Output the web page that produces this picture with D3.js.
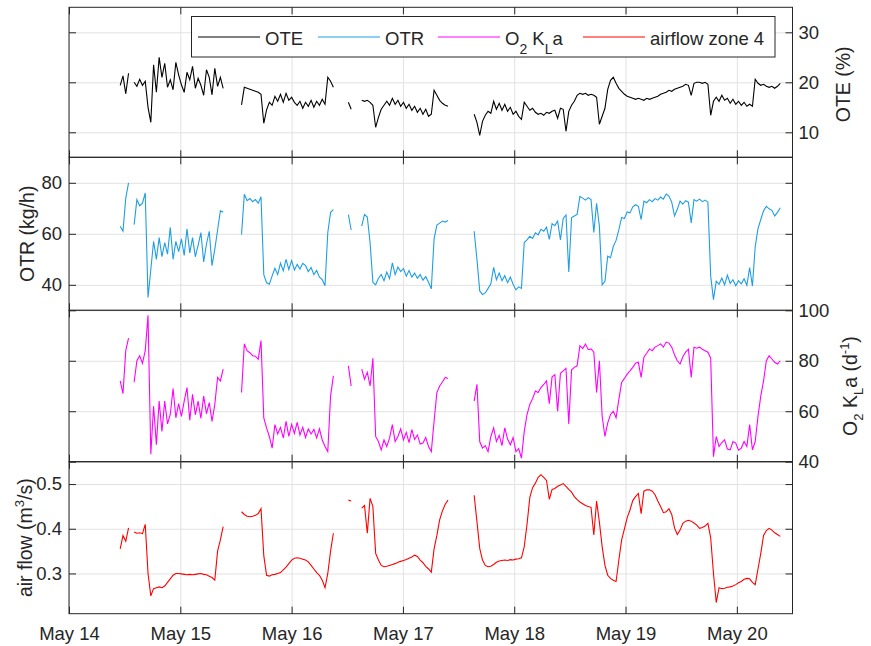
<!DOCTYPE html>
<html lang="en">
<head>
<meta charset="utf-8" />
<title>OTE, OTR, KLa and airflow</title>
<script src="https://cdn.jsdelivr.net/npm/d3@7"></script>
<style>
  body { margin: 0; background: #fff; }
  text { font-family: "Liberation Sans", Arial, Helvetica, sans-serif; fill: #262626; white-space: pre; }
</style>
</head>
<body>
<script>
// logger segments: start of each block in days after May 14 00:00, one sample every 0.025 d
var segStart = [0.46, 0.585, 1.55, 2.51, 2.63, 3.64];
var sampleStep = 0.025;

// OTE (%)
var oteVals = [
  [19.4, 21.3, 17.7, 21.8],
  [20.0, 19.2, 20.6, 19.4, 20.2, 15.0, 12.0, 23.5, 18.0, 25.0, 21.0, 23.8, 19.0, 20.5, 18.5, 24.0, 21.5,
   19.5, 18.0, 22.0, 20.5, 23.2, 18.8, 20.8, 19.4, 17.4, 22.5, 21.0, 17.5, 22.8, 19.2, 21.0, 18.8],
  [15.5, 19.0, 18.8, 18.6, 18.4, 18.2, 18.0, 17.6, 11.8, 14.5, 16.0, 15.4, 17.2, 16.2, 17.6, 16.0, 17.8,
   16.4, 17.0, 16.0, 15.4, 16.2, 14.8, 16.0, 15.2, 16.4, 15.0, 16.2, 15.4, 16.6, 15.6, 21.0, 20.2, 19.0],
  [16.0, 14.6],
  [16.4, 16.2, 16.4, 16.0, 15.4, 11.0, 13.0, 14.6, 15.4, 16.2, 15.4, 16.8, 15.6, 16.4, 15.2, 16.0,
   14.8, 15.6, 14.4, 15.2, 14.0, 14.8, 13.6, 14.6, 13.2, 13.6, 18.4, 17.4, 16.4, 15.8, 15.4, 15.2],
  [13.6, 12.0, 9.4, 12.2, 13.4, 14.2, 13.8, 16.2, 14.6, 15.8,
   14.4, 15.6, 14.2, 15.0, 13.6, 14.2, 13.2, 12.6, 16.0, 15.2,
   14.4, 14.8, 14.0, 13.6, 13.8, 13.4, 14.0, 13.8, 14.2, 14.4,
   12.8, 14.8, 14.6, 10.2, 14.2, 15.4, 16.2, 17.4, 17.8, 17.6,
   17.8, 17.4, 17.6, 17.4, 17.0, 11.6, 13.2, 14.8, 18.6, 20.4,
   21.0, 19.8, 18.8, 18.2, 17.6, 17.2, 17.0, 16.8, 16.6, 16.8,
   16.6, 16.4, 16.8, 16.6, 16.8, 17.0, 17.2, 17.6, 17.8, 18.0,
   18.4, 18.2, 18.6, 18.8, 19.0, 19.2, 19.6, 19.4, 17.4, 19.8,
   20.0, 20.0, 19.8, 20.0, 19.6, 13.4, 16.2, 17.0, 16.2, 17.4,
   16.4, 16.8, 15.8, 16.6, 15.6, 16.2, 15.4, 16.0, 15.2, 15.6,
   15.2, 20.6, 19.8, 19.4, 19.6, 19.2, 19.0, 19.2, 18.8, 19.2,
   19.8]
];

// OTR (kg/h)
var otrVals = [
  [63, 61, 74, 80],
  [63.6, 73.4, 71.0, 72.0, 76.0, 35.0, 46.0, 57.0, 50.0, 58.5, 51.0, 56.5, 52.0, 62.5, 50.0, 57.0, 53.0,
   58.0, 51.5, 62.0, 52.5, 58.5, 51.0, 55.5, 60.5, 49.0, 56.0, 61.0, 47.5, 54.0, 61.5, 69.0, 68.5],
  [59.7, 75.5, 73.0, 73.8, 72.6, 73.4, 72.0, 74.5, 44.0, 40.8, 40.2, 43.5, 46.5, 44.0, 48.5, 45.5, 50.0,
   46.0, 49.5, 45.8, 48.0, 46.2, 48.4, 47.5, 45.2, 46.8, 44.0, 45.6, 43.0, 42.0, 39.6, 60.5, 68.4, 69.5],
  [67.5, 61.5],
  [63.0, 67.6, 66.6, 56.5, 41.0, 40.0, 42.6, 44.0, 41.6, 45.0, 42.4, 48.6, 44.0, 47.0, 45.2, 46.4,
   43.4, 45.6, 43.0, 44.6, 42.6, 44.0, 41.8, 43.2, 41.0, 38.4, 58.0, 63.4, 64.2, 65.0, 64.6, 65.2],
  [61.0, 50.0, 37.6, 36.2, 36.8, 38.6, 40.4, 46.8, 42.0, 44.6,
   41.6, 43.6, 40.8, 43.0, 40.2, 38.0, 39.2, 38.6, 56.6, 57.6,
   59.0, 58.2, 60.4, 59.6, 61.8, 61.0, 62.6, 57.8, 64.0, 63.2,
   65.0, 57.6, 66.0, 67.4, 45.0, 66.4, 67.0, 67.6, 74.7, 74.0,
   73.2, 74.2, 73.4, 60.5, 72.0, 63.0, 40.0, 41.4, 51.2, 50.6,
   55.0, 57.4, 61.6, 66.4, 66.0, 68.6, 68.2, 70.6, 71.4, 70.8,
   65.6, 72.8, 72.2, 73.4, 72.6, 73.8, 73.2, 74.4, 73.6, 75.6,
   74.8, 72.4, 67.0, 69.6, 72.8, 71.6, 73.0, 72.4, 64.3, 73.4,
   72.8, 73.6, 72.6, 73.2, 72.4, 43.4, 34.2, 41.4, 40.2, 42.6,
   40.0, 43.8, 40.6, 42.0, 39.6, 41.6, 40.4, 42.4, 39.8, 46.8,
   39.5, 55.0, 62.0, 65.6, 69.0, 70.8, 69.8, 69.2, 67.0, 68.4,
   70.2]
];

// O2 KLa (1/d)
var klaVals = [
  [72, 67, 84, 89],
  [71.5, 80.0, 82.0, 79.0, 84.0, 98.0, 43.0, 62.0, 46.7, 64.0, 52.0, 64.0, 55.0, 58.7, 69.0, 57.4, 63.0,
   58.0, 64.0, 69.4, 56.4, 66.7, 58.6, 64.0, 57.2, 66.0, 59.0, 63.4, 56.0, 62.7, 73.4, 72.0, 76.7],
  [67.4, 86.7, 84.0, 83.2, 82.0, 81.8, 80.6, 88.0, 57.4, 53.4, 50.0, 45.4, 54.7, 51.0, 53.6, 49.4, 56.0,
   50.0, 54.8, 51.2, 55.6, 50.6, 53.6, 49.6, 53.0, 51.0, 52.8, 49.4, 53.0, 48.6, 46.0, 44.0, 66.0, 74.0],
  [78, 70],
  [76.7, 72.7, 75.4, 70.0, 81.0, 50.0, 48.0, 44.7, 48.6, 46.0, 49.4, 54.7, 48.0, 50.0, 53.0, 48.6,
   51.6, 47.6, 52.7, 48.8, 50.6, 47.0, 47.4, 49.6, 46.0, 44.0, 56.0, 67.4, 70.0, 71.6, 73.4, 73.0],
  [64.0, 70.7, 48.0, 45.4, 46.4, 44.0, 50.0, 53.4, 48.0, 50.4,
   46.4, 53.4, 49.0, 46.7, 49.6, 44.0, 45.2, 41.4, 52.0, 58.7,
   62.7, 65.0, 68.0, 67.4, 69.4, 70.6, 72.0, 63.0, 73.6, 74.4,
   60.0, 75.0, 76.0, 77.0, 55.0, 76.4, 77.4, 78.0, 86.0, 84.8,
   86.6, 84.4, 84.7, 83.4, 67.4, 80.0, 58.0, 50.0, 55.4, 58.7,
   60.0, 57.4, 64.7, 71.4, 73.0, 74.7, 76.0, 77.4, 79.0, 79.4,
   73.4, 81.4, 83.0, 84.7, 84.0, 85.4, 86.0, 86.7, 85.4, 87.4,
   87.0, 85.4, 82.4, 80.0, 78.7, 81.6, 83.4, 84.6, 73.4, 85.4,
   85.0, 85.4, 84.6, 84.0, 83.4, 81.0, 42.0, 50.0, 46.0, 47.6,
   48.7, 45.0, 44.7, 48.0, 47.4, 44.6, 45.4, 48.0, 46.0, 54.7,
   44.7, 48.0, 58.0, 66.0, 72.0, 80.0, 82.0, 80.7, 79.4, 78.7,
   80.0]
];

// airflow zone 4 (m3/s)
var airVals = [
  [0.355, 0.385, 0.372, 0.402],
  [0.393, 0.390, 0.391, 0.389, 0.410, 0.300, 0.250, 0.266, 0.268, 0.270, 0.268, 0.272, 0.280, 0.288,
   0.296, 0.300, 0.300, 0.299, 0.298, 0.297, 0.298, 0.297, 0.298, 0.299, 0.300, 0.298, 0.297, 0.294,
   0.291, 0.285, 0.350, 0.375, 0.405],
  [0.438, 0.432, 0.428, 0.427, 0.428, 0.430, 0.434, 0.445, 0.340, 0.296, 0.294, 0.297, 0.298, 0.300,
   0.302, 0.308, 0.314, 0.322, 0.330, 0.334, 0.335, 0.334, 0.332, 0.330, 0.326, 0.318, 0.310, 0.302,
   0.296, 0.285, 0.268, 0.300, 0.350, 0.390],
  [0.464, 0.462],
  [0.446, 0.452, 0.390, 0.468, 0.450, 0.345, 0.330, 0.318, 0.315, 0.316, 0.318, 0.320, 0.322, 0.325,
   0.327, 0.329, 0.331, 0.334, 0.337, 0.341, 0.338, 0.330, 0.324, 0.316, 0.310, 0.303, 0.355, 0.385,
   0.420, 0.440, 0.455, 0.464],
  [0.475, 0.416, 0.356, 0.330, 0.318, 0.315, 0.316, 0.320, 0.325, 0.328,
   0.329, 0.330, 0.329, 0.331, 0.330, 0.332, 0.333, 0.335, 0.360, 0.410,
   0.470, 0.492, 0.502, 0.515, 0.521, 0.515, 0.508, 0.466, 0.488, 0.490,
   0.495, 0.498, 0.501, 0.495, 0.488, 0.482, 0.472, 0.465, 0.460, 0.456,
   0.452, 0.450, 0.448, 0.386, 0.462, 0.415, 0.360, 0.318, 0.296, 0.289,
   0.285, 0.282, 0.330, 0.375, 0.400, 0.425, 0.442, 0.463, 0.472, 0.479,
   0.434, 0.484, 0.487, 0.487, 0.484, 0.476, 0.462, 0.450, 0.436, 0.438,
   0.445, 0.432, 0.402, 0.387, 0.397, 0.412, 0.417, 0.419, 0.417, 0.413,
   0.408, 0.401, 0.403, 0.406, 0.412, 0.380, 0.300, 0.235, 0.268, 0.266,
   0.267, 0.269, 0.270, 0.272, 0.275, 0.279, 0.282, 0.287, 0.289, 0.288,
   0.280, 0.275, 0.310, 0.345, 0.385, 0.396, 0.401, 0.397, 0.391, 0.387,
   0.383]
];

var oteTicks = [10, 20, 30];
var otrTicks = [40, 60, 80];
var klaTicks = [40, 60, 80, 100];
var airTicks = [0.3, 0.4, 0.5];

var W = 871, H = 646;
var left = 69, right = 792.5;
var edges = [7.3, 157.3, 310.3, 461.7, 613.7];
var ink = "#262626";
var t0 = new Date(2019, 4, 14);

var svg = d3.select("body").append("svg")
  .attr("width", W)
  .attr("height", H);

var x = d3.scaleTime()
  .domain([t0, new Date(2019, 4, 20, 12)])
  .range([left, right]);

function seriesPoints(segs) {
  var pts = [];
  segs.forEach(function(seg, i) {
    seg.forEach(function(v, j) {
      var day = segStart[i] + j * sampleStep;
      pts.push({ t: new Date(+t0 + day * 864e5), v: v });
    });
    pts.push(null); // gap between logger blocks
  });
  return pts;
}

var panels = [
  { vals: oteVals, color: "#000000", domain: [5, 35], ticks: oteTicks, fmt: d3.format("d"), side: "right" },
  { vals: otrVals, color: "#1f9ee3", domain: [30, 90], ticks: otrTicks, fmt: d3.format("d"), side: "left" },
  { vals: klaVals, color: "#ff00ff", domain: [40, 100], ticks: klaTicks, fmt: d3.format("d"), side: "right" },
  { vals: airVals, color: "#ff0000", domain: [0.21, 0.55], ticks: airTicks, fmt: d3.format(".1f"), side: "left" }
];

function styleAxis(g) {
  g.select(".domain").remove();
  g.selectAll("line").attr("stroke", ink);
  g.selectAll("text").attr("font-size", "18.5px").attr("font-family", null).attr("fill", ink);
}

panels.forEach(function(p, i) {
  var top = edges[i], bottom = edges[i + 1];
  var y = d3.scaleLinear().domain(p.domain).range([bottom, top]);
  var g = svg.append("g");

  // grid
  g.append("g")
    .attr("transform", "translate(" + left + ",0)")
    .call(d3.axisLeft(y).tickValues(p.ticks).tickSize(-(right - left)).tickFormat(""))
    .call(function(a) { a.select(".domain").remove(); a.selectAll("line").attr("stroke", "#e2e2e2"); });
  g.append("g")
    .attr("transform", "translate(0," + bottom + ")")
    .call(d3.axisBottom(x).ticks(d3.timeDay.every(1)).tickSize(-(bottom - top)).tickFormat(""))
    .call(function(a) { a.select(".domain").remove(); a.selectAll("line").attr("stroke", "#e2e2e2"); });

  // data
  var clipId = "clip" + i;
  svg.append("clipPath").attr("id", clipId)
    .append("rect").attr("x", left).attr("y", top).attr("width", right - left).attr("height", bottom - top);

  var line = d3.line()
    .defined(function(d) { return d !== null; })
    .x(function(d) { return x(d.t); })
    .y(function(d) { return y(d.v); });

  g.append("path")
    .datum(seriesPoints(p.vals))
    .attr("clip-path", "url(#" + clipId + ")")
    .attr("fill", "none")
    .attr("stroke", p.color)
    .attr("stroke-width", 1.1)
    .attr("d", line);

  // box and ticks
  g.append("rect")
    .attr("x", left).attr("y", top)
    .attr("width", right - left).attr("height", bottom - top)
    .attr("fill", "none").attr("stroke", ink).attr("stroke-width", 1);

  g.append("g")
    .attr("transform", "translate(" + left + ",0)")
    .call(d3.axisLeft(y).tickValues(p.ticks).tickSize(-7).tickPadding(7)
      .tickFormat(p.side === "left" ? p.fmt : ""))
    .call(styleAxis);
  g.append("g")
    .attr("transform", "translate(" + right + ",0)")
    .call(d3.axisRight(y).tickValues(p.ticks).tickSize(-7).tickPadding(6)
      .tickFormat(p.side === "right" ? p.fmt : ""))
    .call(styleAxis);
  g.append("g")
    .attr("transform", "translate(0," + top + ")")
    .call(d3.axisTop(x).ticks(d3.timeDay.every(1)).tickSize(-7).tickFormat(""))
    .call(styleAxis);
  g.append("g")
    .attr("transform", "translate(0," + bottom + ")")
    .call(d3.axisBottom(x).ticks(d3.timeDay.every(1)).tickSize(-7).tickPadding(13)
      .tickFormat(i === panels.length - 1 ? d3.timeFormat("%b %d") : ""))
    .call(styleAxis);
});

// axis titles
function mid(i) { return (edges[i] + edges[i + 1]) / 2; }
var labelSize = "19.5px";

svg.append("text")
  .attr("transform", "translate(850," + (mid(0) + 2) + ") rotate(-90)")
  .attr("text-anchor", "middle").attr("font-size", labelSize)
  .text("OTE (%)");

svg.append("text")
  .attr("transform", "translate(34," + mid(1) + ") rotate(-90)")
  .attr("text-anchor", "middle").attr("font-size", labelSize)
  .text("OTR (kg/h)");

var kl = svg.append("text")
  .attr("transform", "translate(857," + mid(2) + ") rotate(-90)")
  .attr("text-anchor", "middle").attr("font-size", labelSize);
kl.append("tspan").text("O");
kl.append("tspan").attr("dy", 6).attr("font-size", "13px").text("2");
kl.append("tspan").attr("dy", -6).text(" K");
kl.append("tspan").attr("dy", 6).attr("font-size", "13px").text("L");
kl.append("tspan").attr("dy", -6).text("a (d");
kl.append("tspan").attr("dy", -8).attr("font-size", "13px").text("-1");
kl.append("tspan").attr("dy", 8).text(")");

var af = svg.append("text")
  .attr("transform", "translate(32," + mid(3) + ") rotate(-90)")
  .attr("text-anchor", "middle").attr("font-size", labelSize);
af.append("tspan").text("air flow (m");
af.append("tspan").attr("dy", -8).attr("font-size", "13px").text("3");
af.append("tspan").attr("dy", 8).text("/s)");

// legend
var legendNames = ["OTE", "OTR", "O2 KLa", "airflow zone 4"];
var legendColors = panels.map(function(p) { return p.color; });
var legendX = [198, 318, 438, 583];

var lg = svg.append("g");
lg.append("rect")
  .attr("x", 191.5).attr("y", 16.5).attr("width", 583.5).attr("height", 40.5)
  .attr("fill", "#fff").attr("stroke", ink).attr("stroke-width", 1);

legendNames.forEach(function(name, i) {
  lg.append("line")
    .attr("x1", legendX[i]).attr("x2", legendX[i] + 62)
    .attr("y1", 37).attr("y2", 37)
    .attr("stroke", legendColors[i]).attr("stroke-width", 1);
  var t = lg.append("text")
    .attr("x", legendX[i] + 67).attr("y", 44.5)
    .attr("font-size", "18.5px");
  if (name === "O2 KLa") {
    t.append("tspan").text("O");
    t.append("tspan").attr("dy", 9).attr("font-size", "14px").text("2");
    t.append("tspan").attr("dy", -9).text(" K");
    t.append("tspan").attr("dy", 9).attr("font-size", "14px").text("L");
    t.append("tspan").attr("dy", -9).text("a");
  } else {
    t.text(name);
  }
});
</script>
</body>
</html>
